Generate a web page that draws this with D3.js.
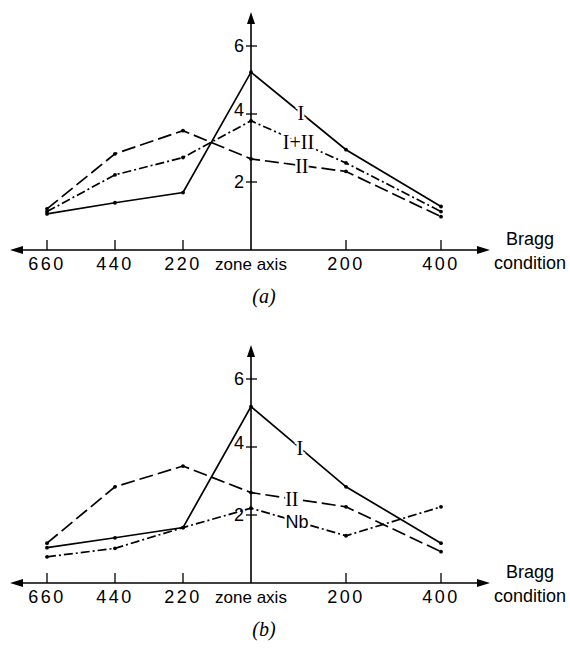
<!DOCTYPE html>
<html>
<head>
<meta charset="utf-8">
<script src="https://cdn.jsdelivr.net/npm/d3@7"></script>
<style>
    body { margin: 0; background: #fff; }
    text { font-family: "Liberation Sans", Arial, sans-serif; fill: #000; }
    .num { letter-spacing: 2.5px; }
    .roman { font-family: "Liberation Serif", "Times New Roman", serif; }
    .cap { font-family: "Liberation Serif", "Times New Roman", serif; font-size: 20px; font-style: italic; }
</style>
</head>
<body>
<div id="chart"></div>
<script>
// x categories (Bragg condition) and their signed positions
const conditions = ["660", "440", "220", "zone axis", "200", "400"];
const positions = [-660, -440, -220, 0, 200, 400];
const yTicks = [2, 4, 6];

// panel (a)
const aI = [1.06, 1.39, 1.69, 5.23, 2.95, 1.28];
const aII = [1.21, 2.83, 3.51, 2.68, 2.31, 0.98];
const aIplusII = [1.13, 2.21, 2.72, 3.80, 2.56, 1.13];

// panel (b)
const bI = [1.04, 1.33, 1.63, 5.19, 2.83, 1.17];
const bII = [1.17, 2.83, 3.44, 2.66, 2.24, 0.92];
const bNb = [0.77, 1.02, 1.63, 2.20, 1.39, 2.24];

const svg = d3.select("#chart")
    .append("svg")
    .attr("width", 570)
    .attr("height", 653);

// uneven spacing on both sides of the zone axis
const x = d3.scaleLinear()
    .domain([-660, 0, 400])
    .range([47, 251, 441]);

const styles = {
    solid: null,
    dash: "14,5",
    dashdot: "9,3,2,3"
};

function drawPanel(axisY, series, caption) {
    const y = d3.scaleLinear().domain([0, 6]).range([axisY, axisY - 204]);
    const g = svg.append("g");
    const x0 = x(0);

    // x axis with arrows both ends
    g.append("line")
        .attr("x1", 14).attr("x2", 486)
        .attr("y1", axisY).attr("y2", axisY)
        .attr("stroke", "#000").attr("stroke-width", 1.6);
    g.append("path")
        .attr("d", `M10,${axisY} L23,${axisY - 4} L23,${axisY + 4} Z`)
        .attr("fill", "#000");
    g.append("path")
        .attr("d", `M490,${axisY} L477,${axisY - 4} L477,${axisY + 4} Z`)
        .attr("fill", "#000");

    // y axis with arrow
    const yTop = y(6) - 34;
    g.append("line")
        .attr("x1", x0).attr("x2", x0)
        .attr("y1", axisY).attr("y2", yTop + 6)
        .attr("stroke", "#000").attr("stroke-width", 1.6);
    g.append("path")
        .attr("d", `M${x0},${yTop} L${x0 - 4},${yTop + 12} L${x0 + 4},${yTop + 12} Z`)
        .attr("fill", "#000");

    // x ticks and labels
    g.selectAll(".xtick")
        .data(positions.filter(d => d !== 0))
        .enter()
        .append("line")
        .attr("x1", d => x(d)).attr("x2", d => x(d))
        .attr("y1", axisY - 10).attr("y2", axisY)
        .attr("stroke", "#000").attr("stroke-width", 1.3);
    g.selectAll(".xlabel")
        .data(conditions)
        .enter()
        .append("text")
        .attr("class", d => d === "zone axis" ? "" : "num")
        .attr("x", (d, i) => x(positions[i]))
        .attr("y", axisY + 20)
        .attr("text-anchor", "middle")
        .style("font-size", d => d === "zone axis" ? "17px" : "18px")
        .text(d => d);

    // y ticks and labels
    g.selectAll(".ytick")
        .data(yTicks)
        .enter()
        .append("line")
        .attr("x1", x0 - 5).attr("x2", x0 + 6)
        .attr("y1", d => y(d)).attr("y2", d => y(d))
        .attr("stroke", "#000").attr("stroke-width", 1.3);
    g.selectAll(".ylabel")
        .data(yTicks)
        .enter()
        .append("text")
        .attr("x", x0 - 7)
        .attr("y", d => y(d))
        .attr("dy", d => d === 4 ? "0.1em" : "0.36em")
        .attr("text-anchor", "end")
        .style("font-size", "18px")
        .text(d => d);

    // Bragg condition
    g.append("text").attr("x", 530).attr("y", axisY - 5)
        .attr("text-anchor", "middle").style("font-size", "18px").text("Bragg");
    g.append("text").attr("x", 530).attr("y", axisY + 19)
        .attr("text-anchor", "middle").style("font-size", "18px").text("condition");

    // lines
    const line = d3.line()
        .x((d, i) => x(positions[i]))
        .y(d => y(d));

    series.forEach(s => {
        g.append("path")
            .datum(s.values)
            .attr("d", line)
            .attr("fill", "none")
            .attr("stroke", "#000")
            .attr("stroke-width", 1.7)
            .attr("stroke-dasharray", styles[s.style]);
        g.selectAll(null)
            .data(s.values)
            .enter()
            .append("circle")
            .attr("cx", (d, i) => x(positions[i]))
            .attr("cy", d => y(d))
            .attr("r", 1.9)
            .attr("fill", "#000");
    });

    // curve labels sitting on the lines, with white halo
    series.forEach(s => {
        const v = d3.scaleLinear().domain(positions).range(s.values)(s.at);
        g.append("text")
            .attr("class", s.serif ? "roman" : "")
            .attr("x", x(s.at))
            .attr("y", y(v))
            .attr("dy", "0.35em")
            .attr("text-anchor", "middle")
            .style("font-size", s.serif ? "20px" : "18px")
            .attr("stroke", "#fff")
            .attr("stroke-width", 5)
            .attr("paint-order", "stroke")
            .text(s.name);
    });

    g.append("text")
        .attr("class", "cap")
        .attr("x", 264)
        .attr("y", axisY + 53)
        .attr("text-anchor", "middle")
        .text(caption);
}

drawPanel(250, [
    { name: "I", values: aI, style: "solid", at: 105, serif: true },
    { name: "I+II", values: aIplusII, style: "dashdot", at: 100, serif: true },
    { name: "II", values: aII, style: "dash", at: 107, serif: true }
], "(a)");

drawPanel(583, [
    { name: "I", values: bI, style: "solid", at: 103, serif: true },
    { name: "II", values: bII, style: "dash", at: 86, serif: true },
    { name: "Nb", values: bNb, style: "dashdot", at: 97, serif: false }
], "(b)");
</script>
</body>
</html>
